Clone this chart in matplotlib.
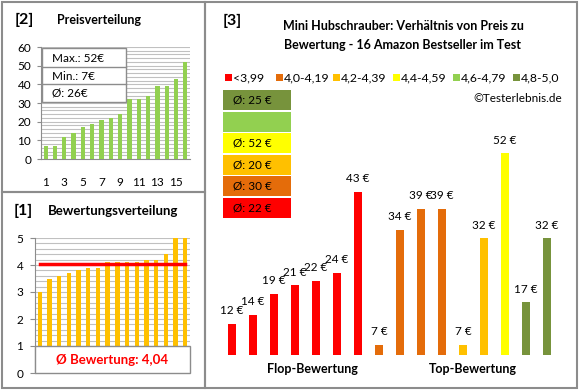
import numpy as np
import matplotlib
matplotlib.use("Agg")
import matplotlib.pyplot as plt
from matplotlib.patches import Rectangle
from matplotlib.ticker import MultipleLocator

plt.rcParams['font.family'] = ['Lato', 'DejaVu Sans']

W, H = 580, 390

# --- Daten ---
preise = [7, 7, 12, 14, 17, 19, 21, 22, 24, 32, 32, 34, 39, 39, 43, 52]
bewertungen = [3.0, 3.5, 3.6, 3.7, 3.8, 3.9, 3.9, 4.1, 4.1, 4.1, 4.1, 4.2, 4.2, 4.4, 5.0, 5.0]
schnitt_bewertung = 4.04
bestseller_preise = [12, 14, 19, 21, 22, 24, 43, 7, 34, 39, 39, 7, 32, 52, 17, 32]
bestseller_klasse = [0, 0, 0, 0, 0, 0, 0, 1, 1, 1, 1, 2, 2, 3, 5, 5]
klassen = ['<3,99', '4,0-4,19', '4,2-4,39', '4,4-4,59', '4,6-4,79', '4,8-5,0']
farben = ['#FF0000', '#E46C0A', '#FFC000', '#FFFF00', '#92D050', '#77933C']
schnitt_klasse = ['Ø: 22 €', 'Ø: 30 €', 'Ø: 20 €', 'Ø: 52 €', '', 'Ø: 25 €']

grau = '#8C8C8C'
gitter = '#C0C0C0'

fig = plt.figure(figsize=(W / 100, H / 100), dpi=100)

def ax_px(x0, y0, x1, y1):
    return fig.add_axes([x0 / W, 1 - y1 / H, (x1 - x0) / W, (y1 - y0) / H])

# Hintergrund / Rahmen in Pixelkoordinaten
bg = fig.add_axes([0, 0, 1, 1])
bg.set_xlim(0, W)
bg.set_ylim(H, 0)
bg.axis('off')
for (x0, y0, x1, y1) in [(2, 2, 205, 192), (2, 192, 205, 388), (205, 2, 577, 388)]:
    bg.add_patch(Rectangle((x0, y0), x1 - x0, y1 - y0, fill=False, ec=grau, lw=1.5))

# --- [2] Preisverteilung ---
ax1 = ax_px(41, 47, 190, 159)
x = np.arange(1, 17)
ax1.bar(x, preise, width=0.45, color='#92D050', zorder=3)
ax1.set_xlim(0.5, 16.5)
ax1.set_ylim(0, 60)
ax1.yaxis.set_major_locator(MultipleLocator(10))
ax1.yaxis.set_minor_locator(MultipleLocator(2))
ax1.grid(axis='y', which='both', color=gitter, lw=0.8, zorder=0)
ax1.set_xticks(range(1, 16, 2))
ax1.tick_params(axis='x', length=0, pad=13, labelsize=8.5)
ax1.tick_params(axis='y', which='major', length=3, color=grau, pad=4, labelsize=8.5)
ax1.tick_params(axis='y', which='minor', length=0)
for s in ['top', 'right']:
    ax1.spines[s].set_visible(False)
for s in ['left', 'bottom']:
    ax1.spines[s].set_color(grau)

bg.text(15, 20, '[2]', fontsize=11.5, fontweight='bold', va='center')
bg.text(57, 20, 'Preisverteilung', fontsize=9, fontweight='bold', va='center')

# --- [1] Bewertungsverteilung ---
ax2 = ax_px(35, 238, 190, 373)
ax2.bar(x, bewertungen, width=0.45, color='#FFC000', zorder=3)
ax2.plot([1, 16], [schnitt_bewertung, schnitt_bewertung], color='#FF0000', lw=2.5, zorder=4)
ax2.set_xlim(0.5, 16.5)
ax2.set_ylim(0, 5)
ax2.yaxis.set_major_locator(MultipleLocator(1))
ax2.yaxis.set_minor_locator(MultipleLocator(0.2))
ax2.grid(axis='y', which='both', color=gitter, lw=0.8, zorder=0)
ax2.set_xticks([])
ax2.tick_params(axis='y', which='major', length=3.5, color=grau, pad=5, labelsize=8.5)
ax2.tick_params(axis='y', which='minor', length=0)
for s in ['top', 'right', 'bottom']:
    ax2.spines[s].set_visible(False)
ax2.spines['left'].set_color(grau)
ax2.add_patch(Rectangle((0.5, 0), 16, 1, fc='white', ec=grau, lw=1, zorder=6, clip_on=False))
ax2.text(8.5, 0.5, 'Ø Bewertung: ' + f'{schnitt_bewertung:.2f}'.replace('.', ','),
         color='#FF0000', fontsize=9.5, fontweight='bold', ha='center', va='center', zorder=7)

bg.text(14, 211, '[1]', fontsize=11.5, fontweight='bold', va='center')
bg.text(48, 211, 'Bewertungsverteilung', fontsize=9.5, fontweight='bold', va='center')

# --- [3] Preis zu Bewertung ---
ax3 = ax_px(221.5, 120, 557.5, 355)
idx = np.arange(len(bestseller_preise))
ax3.bar(idx, bestseller_preise, width=0.38, color=[farben[k] for k in bestseller_klasse])
for i, v in zip(idx, bestseller_preise):
    ax3.annotate(f'{v} €', (i, v), xytext=(0, 9.5), textcoords='offset points',
                 ha='center', va='center', fontsize=8.5)
ax3.set_xlim(-0.5, 15.5)
ax3.set_ylim(4.65, 59.8)
ax3.axis('off')

bg.text(223, 21, '[3]', fontsize=11.5, fontweight='bold', va='center')
bg.text(403, 26, 'Mini Hubschrauber: Verhältnis von Preis zu', fontsize=9,
        fontweight='bold', ha='center', va='center')
bg.text(403, 45, 'Bewertung - 16 Amazon Bestseller im Test', fontsize=9,
        fontweight='bold', ha='center', va='center')

leg_x = [225, 276, 333, 393, 453, 513]
for lx, name, c in zip(leg_x, klassen, farben):
    bg.add_patch(Rectangle((lx, 74), 6.5, 6.5, fc=c, ec='none'))
    bg.text(lx + 8, 77.5, name, fontsize=8.8, va='center')
bg.text(562, 99, '©Testerlebnis.de', fontsize=8.5, ha='right', va='center')

# Ø-Kästen, von unten (rot) nach oben (olivgrün)
for k, (c, t) in enumerate(zip(farben, schnitt_klasse)):
    y0 = 198 - k * 21.6
    bg.add_patch(Rectangle((223, y0), 68, 20, fc=c, ec='none'))
    bg.text(233, y0 + 10, t, fontsize=8.5, va='center')

bg.text(312, 369, 'Flop-Bewertung', fontsize=9, fontweight='bold', ha='center', va='center')
bg.text(473, 369, 'Top-Bewertung', fontsize=9, fontweight='bold', ha='center', va='center')

# Infokasten Preisverteilung (oben drauf)
ov = fig.add_axes([0, 0, 1, 1])
ov.set_xlim(0, W)
ov.set_ylim(H, 0)
ov.axis('off')
ov.patch.set_alpha(0)
ov.add_patch(Rectangle((42, 48), 84, 54, fc='white', ec=grau, lw=1))
for yy in [67, 84]:
    ov.plot([42, 126], [yy, yy], color=grau, lw=1)
info = [f'Max.: {max(preise)}€', f'Min.: {min(preise)}€', f'Ø: {round(np.mean(preise))}€']
for yy, t in zip([58, 76, 93], info):
    ov.text(52, yy, t, fontsize=8.5, va='center')

fig.savefig('out.png', dpi=100)
